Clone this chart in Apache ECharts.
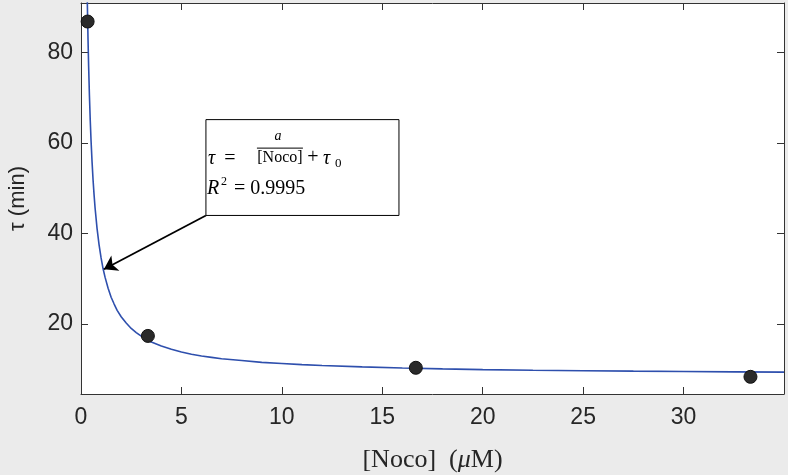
<!DOCTYPE html>
<html>
<head>
<meta charset="utf-8">
<script src="https://cdn.jsdelivr.net/npm/echarts@6/dist/echarts.min.js"></script>
<style>
html,body{margin:0;padding:0;background:#ebebeb;}
#c{width:788px;height:475px;}
</style>
</head>
<body>
<div id="c"></div>
<script>
// ---- data ----
const xTicks = [0, 5, 10, 15, 20, 25, 30];
const yTicks = [20, 40, 60, 80];
const pointsX = [0.33, 3.33, 16.67, 33.33];
const pointsY = [86.9, 17.35, 10.3, 8.3];
const fitX = [0.30, 0.32, 0.35, 0.38, 0.42, 0.46, 0.50, 0.55, 0.60, 0.65, 0.70, 0.80, 0.90, 1.00, 1.10, 1.20, 1.35, 1.50, 1.65, 1.80, 2.00, 2.25, 2.50, 2.75, 3.00, 3.25, 3.50, 4.00, 4.50, 5.00, 5.50, 6.00, 6.50, 7.00, 8.00, 9.00, 10.0, 11.0, 12.0, 14.0, 16.0, 18.0, 20.0, 22.5, 25.0, 27.5, 30.0, 32.5, 35.0];
const fitY = [95.3, 89.9, 82.9, 77.0, 70.5, 65.1, 60.6, 55.9, 51.9, 48.6, 45.7, 41.1, 37.5, 34.6, 32.2, 30.3, 27.9, 25.9, 24.4, 23.0, 21.6, 20.2, 19.0, 18.1, 17.3, 16.6, 16.0, 15.1, 14.4, 13.8, 13.3, 12.9, 12.6, 12.3, 11.9, 11.5, 11.25, 11.0, 10.8, 10.5, 10.25, 10.05, 9.9, 9.75, 9.64, 9.55, 9.47, 9.40, 9.34];
const xRange = [0, 35];
const yRange = [4.5, 91];
const arrowFrom = [6.22, 44.0];
const arrowTo = [1.14, 32.1];
const boxTopLeft = [6.22, 65.2];
const boxBottomRight = [15.83, 44.0];

const sans = '"Liberation Sans", Arial, Helvetica, sans-serif';
const serif = '"Liberation Serif", "Times New Roman", serif';
const axisCol = '#333333';

const chart = echarts.init(document.getElementById('c'), null, {renderer: 'canvas'});

function mkX(pos, show) {
  return {
    type: 'value', position: pos, min: xRange[0], max: xRange[1],
    axisLine: {show: true, onZero: false, lineStyle: {color: axisCol, width: 1}},
    axisTick: {show: true, inside: true, length: 7, customValues: xTicks, lineStyle: {color: axisCol, width: 1}},
    axisLabel: {show: show, customValues: xTicks, fontFamily: sans, fontSize: 23, color: '#262626', margin: 12},
    splitLine: {show: false},
    name: show ? '[Noco]\u2002({i|\u03bc}M)' : '',
    nameLocation: 'middle', nameGap: 53,
    nameTextStyle: {fontFamily: serif, fontSize: 26, color: '#262626',
      rich: {i: {fontFamily: serif, fontStyle: 'italic', fontSize: 26, color: '#262626'}}}
  };
}
function mkY(pos, show) {
  return {
    type: 'value', position: pos, min: yRange[0], max: yRange[1],
    axisLine: {show: true, onZero: false, lineStyle: {color: axisCol, width: 1}},
    axisTick: {show: true, inside: true, length: 7, customValues: yTicks, lineStyle: {color: axisCol, width: 1}},
    axisLabel: {show: show, customValues: yTicks, fontFamily: sans, fontSize: 23, color: '#262626', margin: 8},
    splitLine: {show: false},
    name: show ? '\u03c4 (min)' : '',
    nameLocation: 'middle', nameGap: 52, nameRotate: 90,
    nameTextStyle: {fontFamily: sans, fontSize: 22, color: '#262626'}
  };
}

chart.setOption({
  animation: false,
  backgroundColor: '#ebebeb',
  grid: {left: 81, top: 3, right: 4, bottom: 81, show: true, backgroundColor: '#ffffff', borderWidth: 0,
    containLabel: false, outerBoundsMode: 'none'},
  xAxis: [mkX('bottom', true), mkX('top', false)],
  yAxis: [mkY('left', true), mkY('right', false)],
  series: [
    {
      type: 'line', xAxisIndex: 0, yAxisIndex: 0,
      data: fitX.map((x, i) => [x, fitY[i]]),
      showSymbol: false, smooth: false, clip: true,
      lineStyle: {color: '#2e4fad', width: 1.6}
    },
    {
      type: 'scatter', xAxisIndex: 0, yAxisIndex: 0,
      data: pointsX.map((x, i) => [x, pointsY[i]]),
      symbolSize: 13,
      itemStyle: {color: '#2a2a2a', borderColor: '#111', borderWidth: 1, opacity: 1},
      z: 3,
      markLine: {
        silent: true, symbol: ['none', 'arrow'], symbolSize: 13,
        label: {show: false},
        lineStyle: {color: '#000', width: 1.8, type: 'solid'},
        data: [[{coord: arrowFrom}, {coord: arrowTo}]]
      }
    }
  ]
});

const tl = chart.convertToPixel({gridIndex: 0}, boxTopLeft);
const br = chart.convertToPixel({gridIndex: 0}, boxBottomRight);
const bx = tl[0], by = tl[1];
function t(text, x, y, size, italic, align) {
  return {type: 'text', silent: true, z: 100,
    style: {text: text, x: bx + x, y: by + y, fontFamily: serif, fontSize: size,
      fontStyle: italic ? 'italic' : 'normal', fill: '#000', align: align || 'left', verticalAlign: 'middle'}};
}
chart.setOption({
  graphic: [
    {type: 'rect', silent: true, z: 99,
      shape: {x: bx, y: by, width: br[0] - bx, height: br[1] - by},
      style: {fill: '#ffffff', stroke: '#000', lineWidth: 1}},
    t('\u03c4', 2, 39, 20, true),
    t('=', 24, 39, 20, false, 'center'),
    t('a', 72, 17, 14, true, 'center'),
    {type: 'line', silent: true, z: 100, shape: {x1: bx + 51, y1: by + 28.5, x2: bx + 97, y2: by + 28.5}, style: {stroke: '#000', lineWidth: 1}},
    t('[Noco]', 74, 38, 16, false, 'center'),
    t('+', 107, 38, 20, false, 'center'),
    t('\u03c4', 117, 39, 20, true),
    t('0', 129, 44, 13, false),
    t('R', 1, 69, 20, true),
    t('2', 15, 62, 12, false),
    t('= 0.9995', 28, 69, 20, false)
  ]
});
</script>
</body>
</html>
